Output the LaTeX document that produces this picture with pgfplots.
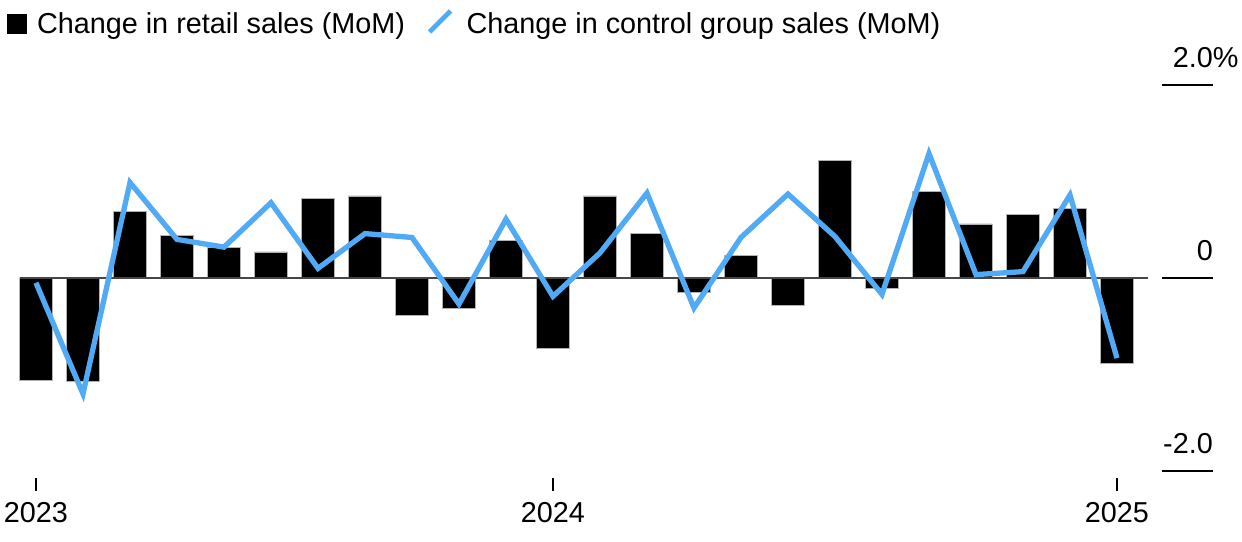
\documentclass[border=0pt]{standalone}
\usepackage{fontspec}
\setmainfont{Liberation Sans}
\usepackage{pgfplots}
\pgfplotsset{compat=1.18}
\definecolor{cgblue}{RGB}{80,170,245}
\definecolor{zerogray}{RGB}{70,70,70}
\newcommand{\chartfont}{\fontsize{28.8bp}{34bp}\selectfont}
\begin{document}
\begin{tikzpicture}[x=1bp,y=1bp]
\useasboundingbox (0,0) rectangle (1242,542);
\begin{axis}[
  at={(20bp,71bp)}, anchor=south west,
  scale only axis, width=1128bp, height=386bp,
  xmin=-0.34, xmax=23.66, ymin=-2, ymax=2,
  clip=false,
  axis line style={draw=none},
  /pgf/number format/assume math mode=true,
  tick label style={font=\chartfont},
  tick align=inside,
  major tick length=13bp,
  xtick={0,11,23}, xticklabels={2023,2024,2025},
  xtick pos=left,
  xtick style={draw=black, line width=1.5bp, yshift=-20bp},
  xticklabel style={anchor=base, yshift=-52bp},
  ytick={-2,0,2}, yticklabels={-2.0,0,2.0\rlap{\%}},
  ytick pos=right, yticklabel pos=right,
  ytick style={draw=none},
  yticklabel style={anchor=base east, inner sep=0pt, xshift=65bp, yshift=17bp},
  legend columns=2,
  legend style={at={(-0.011525,1.20984)}, anchor=north west,
    draw=none, fill=none, inner sep=0pt, outer sep=0pt,
    font=\chartfont,
    cells={anchor=base west},
    nodes={inner sep=0pt, outer sep=0pt},
    /tikz/every even column/.append style={column sep=22bp}},
]
\addplot[ybar, bar width=33bp, fill=black, draw=gray!60, line width=0.8bp,
  legend image code/.code={\fill[black, draw=none] (0bp,0bp) rectangle (20bp,20bp); \path[draw=none, fill=none] (0bp,-10bp) rectangle (30bp,30bp);}]
  table[x=i, y=v] {
i v
0 -1.06
1 -1.07
2 0.69
3 0.44
4 0.32
5 0.27
6 0.82
7 0.85
8 -0.39
9 -0.31
10 0.39
11 -0.73
12 0.85
13 0.46
14 -0.15
15 0.23
16 -0.28
17 1.22
18 -0.11
19 0.90
20 0.56
21 0.66
22 0.725
23 -0.88
};
\addlegendentry{Change in retail sales (MoM)}
\draw[zerogray, line width=1.5bp] (axis cs:-0.34,0) -- (axis cs:23.66,0);
\addplot[cgblue, line width=5.3bp, mark=none,
  legend image code/.code={\draw[cgblue, line width=4.8bp] (2bp,2bp) -- (23bp,23bp); \path[draw=none, fill=none] (0bp,0bp) rectangle (39bp,20bp);}]
  table[x=i, y=v] {
i v
0 -0.05
1 -1.20
2 0.99
3 0.40
4 0.32
5 0.78
6 0.10
7 0.46
8 0.42
9 -0.27
10 0.61
11 -0.19
12 0.26
13 0.88
14 -0.31
15 0.42
16 0.87
17 0.43
18 -0.17
19 1.29
20 0.035
21 0.066
22 0.86
23 -0.83
};
\addlegendentry{Change in control group sales (MoM)}
\draw[black, line width=1.5bp] (axis cs:23.957,2) -- (axis cs:25.043,2);
\draw[black, line width=1.5bp] (axis cs:23.957,0) -- (axis cs:25.043,0);
\draw[black, line width=1.5bp] (axis cs:23.957,-2) -- (axis cs:25.043,-2);
\end{axis}
\end{tikzpicture}
\end{document}
